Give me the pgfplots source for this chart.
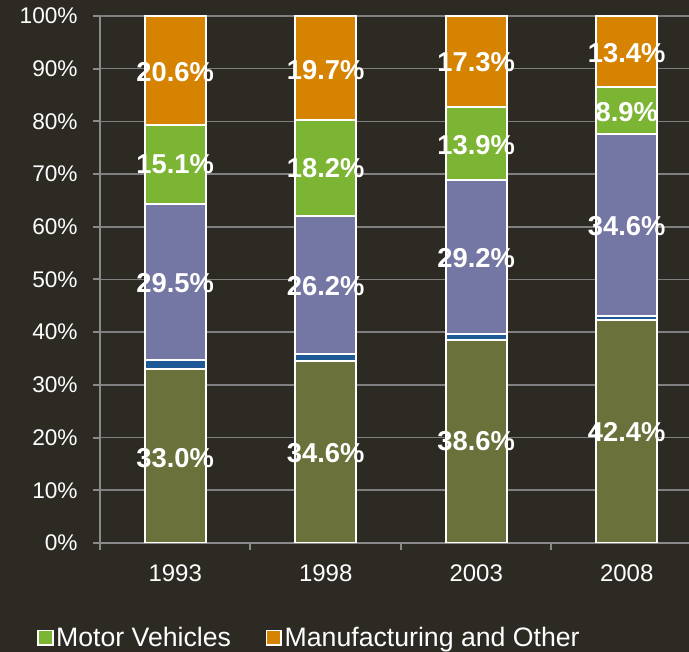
\documentclass[border=0pt]{standalone}
\usepackage{pgfplots}
\pgfplotsset{compat=1.18}
\usepackage{fontspec}
\setmainfont{Liberation Sans}
\definecolor{bg}{HTML}{2D2A24}
\definecolor{olivec}{HTML}{6A713A}
\definecolor{bluec}{HTML}{1F5A96}
\definecolor{purplec}{HTML}{7476A3}
\definecolor{greenc}{HTML}{7CB434}
\definecolor{orangec}{HTML}{D58300}
\definecolor{gridgray}{HTML}{7F7F7F}
\definecolor{axisgray}{HTML}{8A8A8A}
\begin{document}
\begin{tikzpicture}
\path[use as bounding box, fill=bg] (0,0) rectangle (516.75pt,489pt);
\begin{axis}[
  at={(75pt,81.75pt)}, anchor=south west,
  scale only axis, width=441.75pt, height=395.25pt,
  ybar stacked, bar width=0.405,
  xmin=-0.5, xmax=3.414, ymin=0, ymax=100,
  axis lines*=left,
  axis line style={draw=axisgray, line width=1.5pt},
  ytick={0,10,...,100},
  yticklabel={\pgfmathprintnumber{\tick}\%},
  ymajorgrids, grid style={draw=gridgray, line width=1.2pt},
  xtick={-0.5,0.5,1.5,2.5,3.5}, xticklabels={},
  extra x ticks={0,1,2,3}, extra x tick labels={1993,1998,2003,2008},
  extra x tick style={tick style={draw=none}},
  tick align=outside, major tick length=5.25pt,
  tick style={draw=axisgray, line width=1.5pt},
  ticklabel style={font=\fontsize{17}{20}\selectfont, text=white},
  yticklabel style={xshift=-8pt},
  xticklabel style={yshift=-7.5pt, font=\fontsize{18}{21}\selectfont},
  /pgf/number format/assume math mode=true,
  legend image code/.code={\draw[#1] (0pt,-5.5pt) rectangle (11pt,5.5pt);},
  legend style={at={(-0.107,-0.18)}, anchor=west, draw=none, fill=none,
    inner sep=0pt, legend columns=-1, text=white,
    font=\fontsize{20}{24}\selectfont,
    nodes={inner sep=2pt},
    /tikz/every even column/.append style={column sep=24pt}},
]
\addlegendimage{fill=greenc, draw=white, line width=1.2pt}
\addlegendentry{Motor Vehicles}
\addlegendimage{fill=orangec, draw=white, line width=1.2pt}
\addlegendentry{Manufacturing and Other}
\addplot[fill=olivec, draw=white, line width=1.5pt, forget plot] coordinates {(0,33.0) (1,34.6) (2,38.6) (3,42.4)};
\addplot[fill=bluec, draw=white, line width=1.5pt, forget plot] coordinates {(0,1.8) (1,1.3) (2,1.0) (3,0.7)};
\addplot[fill=purplec, draw=white, line width=1.5pt, forget plot] coordinates {(0,29.5) (1,26.2) (2,29.2) (3,34.6)};
\addplot[fill=greenc, draw=white, line width=1.5pt, forget plot] coordinates {(0,15.1) (1,18.2) (2,13.9) (3,8.9)};
\addplot[fill=orangec, draw=white, line width=1.5pt, forget plot] coordinates {(0,20.6) (1,19.7) (2,17.3) (3,13.4)};
\end{axis}
\begin{axis}[
  at={(75pt,81.75pt)}, anchor=south west,
  scale only axis, width=441.75pt, height=395.25pt,
  xmin=-0.5, xmax=3.414, ymin=0, ymax=100,
  hide axis, clip=false,
]
\addplot[draw=none, mark=none, nodes near coords, point meta=explicit symbolic,
  every node near coord/.append style={anchor=center, text=white, font=\bfseries\fontsize{20.5}{24}\selectfont}]
  coordinates {
  (0,16.2) [33.0\%] (0,49.3) [29.5\%] (0,71.8) [15.1\%] (0,89.4) [20.6\%]
  (1,17.0) [34.6\%] (1,48.8) [26.2\%] (1,71.2) [18.2\%] (1,89.8) [19.7\%]
  (2,19.3) [38.6\%] (2,54.1) [29.2\%] (2,75.5) [13.9\%] (2,91.2) [17.3\%]
  (3,21.0) [42.4\%] (3,60.2) [34.6\%] (3,81.7) [8.9\%] (3,93.0) [13.4\%]
  };
\end{axis}
\end{tikzpicture}
\end{document}
